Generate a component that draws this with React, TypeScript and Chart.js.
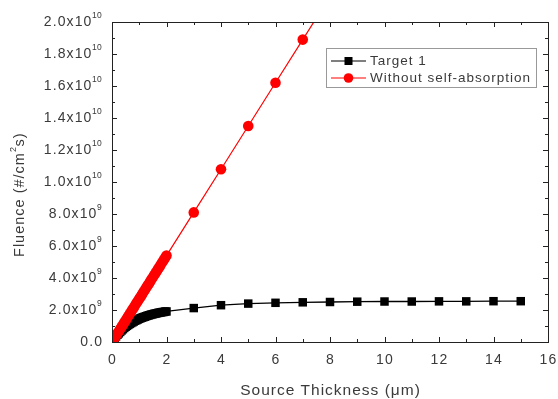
import React, { useEffect, useRef } from "react";
import { Chart, registerables } from "chart.js";

Chart.register(...registerables);

// ---- data ----
const target1X = [0, 0.05, 0.1, 0.15, 0.2, 0.25, 0.3, 0.35, 0.4, 0.45, 0.5, 0.55, 0.6, 0.65, 0.7, 0.75, 0.8, 0.85, 0.9, 0.95, 1.0, 1.05, 1.1, 1.15, 1.2, 1.25, 1.3, 1.35, 1.4, 1.45, 1.5, 1.55, 1.6, 1.65, 1.7, 1.75, 1.8, 1.85, 1.9, 1.95, 2.0, 3, 4, 5, 6, 7, 8, 9, 10, 11, 12, 13, 14, 15];
const target1Y = [0, 0.12e9, 0.24e9, 0.35e9, 0.45e9, 0.54e9, 0.63e9, 0.72e9, 0.8e9, 0.88e9, 0.95e9, 1.01e9, 1.07e9, 1.13e9, 1.18e9, 1.23e9, 1.28e9, 1.33e9, 1.37e9, 1.41e9, 1.45e9, 1.49e9, 1.52e9, 1.55e9, 1.58e9, 1.61e9, 1.64e9, 1.67e9, 1.69e9, 1.72e9, 1.74e9, 1.76e9, 1.78e9, 1.8e9, 1.82e9, 1.84e9, 1.85e9, 1.87e9, 1.88e9, 1.9e9, 1.91e9, 2.12e9, 2.3e9, 2.4e9, 2.45e9, 2.48e9, 2.5e9, 2.52e9, 2.53e9, 2.53e9, 2.54e9, 2.54e9, 2.55e9, 2.55e9];
const noAbsX = [0, 0.05, 0.1, 0.15, 0.2, 0.25, 0.3, 0.35, 0.4, 0.45, 0.5, 0.55, 0.6, 0.65, 0.7, 0.75, 0.8, 0.85, 0.9, 0.95, 1.0, 1.05, 1.1, 1.15, 1.2, 1.25, 1.3, 1.35, 1.4, 1.45, 1.5, 1.55, 1.6, 1.65, 1.7, 1.75, 1.8, 1.85, 1.9, 1.95, 2.0, 3, 4, 5, 6, 7, 8];
const noAbsY = [0, 0.135e9, 0.27e9, 0.405e9, 0.54e9, 0.675e9, 0.81e9, 0.945e9, 1.08e9, 1.215e9, 1.35e9, 1.485e9, 1.62e9, 1.755e9, 1.89e9, 2.025e9, 2.16e9, 2.295e9, 2.43e9, 2.565e9, 2.7e9, 2.835e9, 2.97e9, 3.105e9, 3.24e9, 3.375e9, 3.51e9, 3.645e9, 3.78e9, 3.915e9, 4.05e9, 4.185e9, 4.32e9, 4.455e9, 4.59e9, 4.725e9, 4.86e9, 4.995e9, 5.13e9, 5.265e9, 5.4e9, 8.1e9, 1.08e10, 1.35e10, 1.62e10, 1.89e10, 2.16e10];
const xTickValues = [0, 2, 4, 6, 8, 10, 12, 14, 16];
const yTickValues = [0, 2e9, 4e9, 6e9, 8e9, 1e10, 1.2e10, 1.4e10, 1.6e10, 1.8e10, 2e10];
const seriesNames = ["Target 1", "Without self-absorption"];
const xTitle = "Source Thickness (\u03bcm)";

const FONT = "'Liberation Sans', Arial, sans-serif";
const TXT = "#3a3a3a";

function yLabelParts(v: number): [string, string] {
  if (v === 0) return ["0.0", ""];
  if (v >= 1e10) return [(v / 1e10).toFixed(1) + "x10", "10"];
  return [(v / 1e9).toFixed(1) + "x10", "9"];
}

function setFont(ctx: any, size: number, spacing: number) {
  ctx.font = `${size}px ${FONT}`;
  ctx.letterSpacing = `${spacing}px`;
}

const framePlugin = {
  id: "framePlugin",
  afterDraw(chart: any) {
    const ctx = chart.ctx as any;
    const a = chart.chartArea;
    const xs = chart.scales.x;
    const ys = chart.scales.y;
    ctx.save();
    // frame
    ctx.strokeStyle = "#222";
    ctx.lineWidth = 1;
    ctx.strokeRect(Math.round(a.left) + 0.5, Math.round(a.top) + 0.5, Math.round(a.right - a.left), Math.round(a.bottom - a.top));
    // ticks
    ctx.beginPath();
    for (let v = 0; v <= 16; v += 1) {
      const px = Math.round(xs.getPixelForValue(v)) + 0.5;
      const len = v % 2 === 0 ? 5 : 3;
      ctx.moveTo(px, a.bottom);
      ctx.lineTo(px, a.bottom - len);
      ctx.moveTo(px, a.top);
      ctx.lineTo(px, a.top + len);
    }
    for (let i = 0; i <= 20; i++) {
      const v = i * 1e9;
      const py = Math.round(ys.getPixelForValue(v)) + 0.5;
      const len = i % 2 === 0 ? 5 : 3;
      ctx.moveTo(a.left, py);
      ctx.lineTo(a.left + len, py);
      ctx.moveTo(a.right, py);
      ctx.lineTo(a.right - len, py);
    }
    ctx.stroke();

    // x tick labels
    ctx.fillStyle = TXT;
    setFont(ctx, 14, 1.2);
    ctx.textAlign = "center";
    ctx.textBaseline = "middle";
    for (const v of xTickValues) {
      ctx.fillText(String(v), xs.getPixelForValue(v) + 0.6, a.bottom + 18);
    }
    // y tick labels with superscript exponent
    const rightEdge = a.left - 10;
    for (const v of yTickValues) {
      const [main, exp] = yLabelParts(v);
      const py = ys.getPixelForValue(v);
      setFont(ctx, 8.5, 0.3);
      const ew = exp ? ctx.measureText(exp).width : 0;
      ctx.textAlign = "left";
      if (exp) ctx.fillText(exp, rightEdge - ew, py - 6);
      setFont(ctx, 14, 1.1);
      ctx.textAlign = "right";
      ctx.fillText(main, rightEdge - ew + (exp ? 0.5 : 1.1), py);
    }
    // x title
    setFont(ctx, 15.5, 1);
    ctx.textAlign = "center";
    ctx.fillText(xTitle, (a.left + a.right) / 2 + 0.5, 391);
    // y title rotated with superscript
    ctx.save();
    ctx.translate(20, 195);
    ctx.rotate(-Math.PI / 2);
    const p1 = "Fluence (#/cm";
    const p2 = "2";
    const p3 = "s)";
    setFont(ctx, 14.5, 1);
    const w1 = ctx.measureText(p1).width;
    const w3 = ctx.measureText(p3).width;
    setFont(ctx, 9, 0);
    const w2 = ctx.measureText(p2).width;
    const total = w1 + w2 + w3;
    const x0 = -total / 2;
    ctx.textAlign = "left";
    setFont(ctx, 14.5, 1);
    ctx.fillText(p1, x0, 0);
    setFont(ctx, 9, 0);
    ctx.fillText(p2, x0 + w1, -6);
    setFont(ctx, 14.5, 1);
    ctx.fillText(p3, x0 + w1 + w2 + 0.5, 0);
    ctx.restore();

    // legend
    const lx = 326, ly = 48, lw = 210, lh = 39;
    ctx.fillStyle = "#fff";
    ctx.fillRect(lx, ly, lw, lh);
    ctx.strokeStyle = "#999";
    ctx.lineWidth = 1;
    ctx.strokeRect(lx + 0.5, ly + 0.5, lw, lh);
    const rows = [
      { y: 61, color: "#000", shape: "rect" },
      { y: 78, color: "#ff0000", shape: "circle" },
    ];
    rows.forEach((r, i) => {
      ctx.strokeStyle = r.color;
      ctx.lineWidth = 1.2;
      ctx.beginPath();
      ctx.moveTo(331, r.y);
      ctx.lineTo(366, r.y);
      ctx.stroke();
      ctx.fillStyle = r.color;
      if (r.shape === "rect") {
        ctx.fillRect(344.5, r.y - 4, 8, 8);
      } else {
        ctx.beginPath();
        ctx.arc(348.5, r.y, 4.8, 0, Math.PI * 2);
        ctx.fill();
      }
      ctx.fillStyle = TXT;
      setFont(ctx, 13.5, 1);
      ctx.textAlign = "left";
      ctx.textBaseline = "middle";
      ctx.fillText(seriesNames[i], 370, r.y + 0.5);
    });
    ctx.restore();
  },
};

export default function App() {
  const ref = useRef<HTMLCanvasElement | null>(null);
  useEffect(() => {
    if (!ref.current) return;
    const chart = new Chart(ref.current, {
      type: "scatter",
      data: {
        datasets: [
          {
            label: seriesNames[0],
            data: target1X.map((x, i) => ({ x, y: target1Y[i] })),
            showLine: true,
            borderColor: "#000",
            backgroundColor: "#000",
            borderWidth: 1.3,
            pointStyle: "rect",
            pointRadius: 6,
            pointBorderWidth: 0,
            order: 1,
          },
          {
            label: seriesNames[1],
            data: noAbsX.map((x, i) => ({ x, y: noAbsY[i] })),
            showLine: true,
            borderColor: "#ff0000",
            backgroundColor: "#ff0000",
            borderWidth: 1.2,
            pointStyle: "circle",
            pointRadius: 5.3,
            pointBorderWidth: 0,
            order: 0,
          },
        ],
      },
      options: {
        responsive: false,
        animation: false,
        layout: { padding: { left: 112, right: 10, top: 22, bottom: 57 } },
        plugins: { legend: { display: false }, tooltip: { enabled: false } },
        scales: {
          x: { type: "linear", min: 0, max: 16, display: false },
          y: { type: "linear", min: 0, max: 2e10, display: false },
        },
      },
      plugins: [framePlugin],
    });
    return () => chart.destroy();
  }, []);
  return (
    <div style={{ position: "fixed", left: 0, top: 0, width: 558, height: 399, background: "#fff" }}>
      <canvas ref={ref} width={558} height={399} style={{ display: "block" }} />
    </div>
  );
}
